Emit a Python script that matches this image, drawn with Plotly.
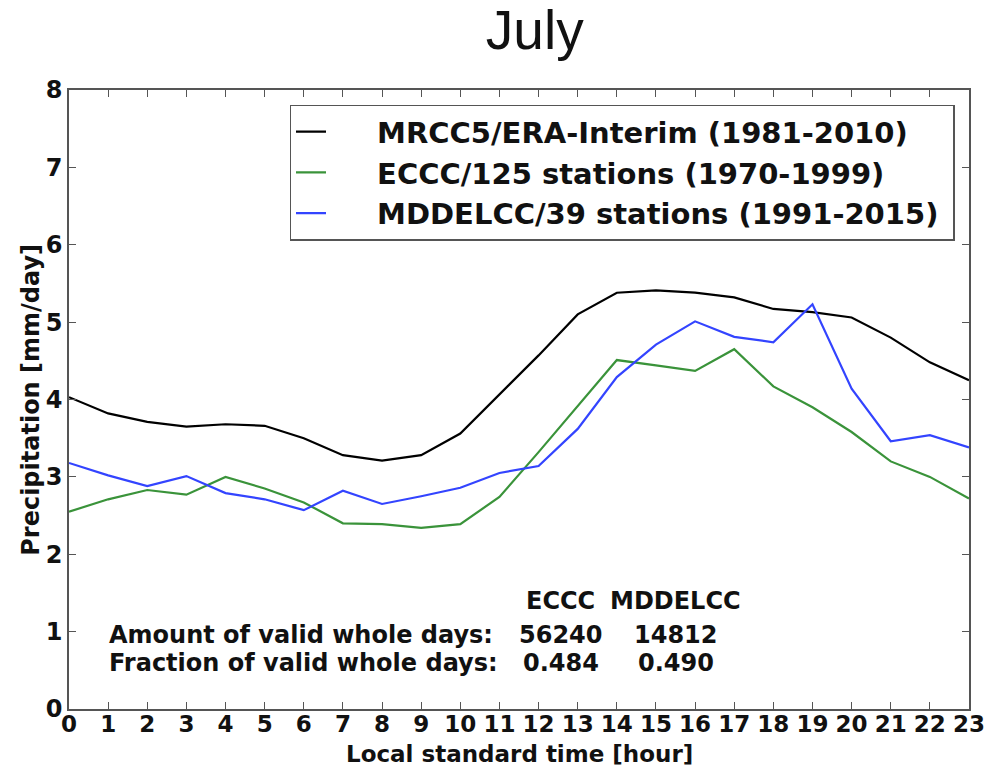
import plotly.graph_objects as go

hours = list(range(24))
mrcc5 = [4.03, 3.82, 3.71, 3.65, 3.68, 3.66, 3.50, 3.28, 3.21, 3.28, 3.56, 4.06,
         4.57, 5.10, 5.38, 5.41, 5.38, 5.32, 5.17, 5.13, 5.06, 4.80, 4.48, 4.25]
eccc = [2.55, 2.71, 2.83, 2.77, 3.00, 2.85, 2.67, 2.40, 2.39, 2.34, 2.39, 2.74,
        3.32, 3.91, 4.51, 4.44, 4.37, 4.65, 4.17, 3.90, 3.58, 3.20, 3.00, 2.72]
mddelcc = [3.18, 3.02, 2.88, 3.01, 2.79, 2.71, 2.57, 2.82, 2.65, 2.75, 2.86, 3.05,
           3.14, 3.62, 4.29, 4.71, 5.01, 4.81, 4.74, 5.23, 4.14, 3.46, 3.54, 3.38]
names = ["MRCC5/ERA-Interim (1981-2010)", "ECCC/125 stations (1970-1999)",
         "MDDELCC/39 stations (1991-2015)"]
colors = ["#000000", "#3a933a", "#3344ff"]
series = [mrcc5, eccc, mddelcc]

col_heads = ["ECCC", "MDDELCC"]
row_labels = ["Amount of valid whole days:", "Fraction of valid whole days:"]
amounts = ["56240", "14812"]
fractions = ["0.484", "0.490"]
x_title = "Local standard time [hour]"
y_title = "Precipitation [mm/day]"

BF = "DejaVu Sans"
SP = "&nbsp;"

fig = go.Figure()
for ys, nm, c in zip(series, names, colors):
    fig.add_trace(go.Scatter(x=hours, y=ys, mode="lines",
                             name=SP * 5 + "<b>%s</b>" % nm + SP,
                             line=dict(color=c, width=2.2)))

ann = []
col_x = [12.57, 15.5]
for cx, h, a, f in zip(col_x, col_heads, amounts, fractions):
    ann.append(dict(x=cx, y=1.39, text="<b>%s</b>" % h, showarrow=False,
                    xanchor="center", yanchor="middle"))
    ann.append(dict(x=cx, y=0.95, text="<b>%s</b>" % a, showarrow=False,
                    xanchor="center", yanchor="middle"))
    ann.append(dict(x=cx, y=0.59, text="<b>%s</b>" % f, showarrow=False,
                    xanchor="center", yanchor="middle"))
for yy, lab in zip([0.95, 0.59], row_labels):
    ann.append(dict(x=0.98, y=yy, text="<b>%s</b>" % lab, showarrow=False,
                    xanchor="left", yanchor="middle"))
for a in ann:
    a["font"] = dict(family=BF, size=24, color="#111")
    a["xref"] = "x"
    a["yref"] = "y"

# axis titles as paper annotations for exact placement
ann.append(dict(x=0.5, y=-0.073, xref="paper", yref="paper", showarrow=False,
                text="<b>%s</b>" % x_title, xanchor="center", yanchor="middle",
                font=dict(family=BF, size=23, color="#111")))
ann.append(dict(x=-0.043, y=0.5, xref="paper", yref="paper", showarrow=False,
                text="<b>%s</b>" % y_title, xanchor="center", yanchor="middle",
                textangle=-90, font=dict(family=BF, size=24, color="#111")))

axis_common = dict(showgrid=False, zeroline=False, showline=True, linecolor="#555",
                   linewidth=1.5, mirror="allticks", ticks="inside", ticklen=7,
                   tickcolor="#555", automargin=False)

fig.update_layout(
    width=994, height=770,
    margin=dict(l=69, r=25, t=90, b=61),
    paper_bgcolor="white", plot_bgcolor="white",
    title=dict(text="July", x=0.538, xanchor="center", y=0.962, yanchor="middle",
               font=dict(family="Liberation Sans", size=55, color="#111")),
    xaxis=dict(range=[0, 23], tickmode="array", tickvals=hours,
               ticktext=["<b>%d</b>" % h for h in hours], ticklabelstandoff=-6,
               tickfont=dict(family=BF, size=23, color="#111"), **axis_common),
    yaxis=dict(range=[0, 8], tickmode="array", tickvals=list(range(9)),
               ticktext=["<b>%d</b>" % v for v in range(9)],
               tickfont=dict(family=BF, size=24, color="#111"), **axis_common),
    legend=dict(x=0.245, y=0.976, xanchor="left", yanchor="top",
                bordercolor="#555", borderwidth=1.5, bgcolor="white",
                font=dict(family=BF, size=29, color="#111")),
    annotations=ann,
    showlegend=True,
)

fig.write_html("out.html", config={"displayModeBar": False},
               post_script="document.body.style.margin='0';")
